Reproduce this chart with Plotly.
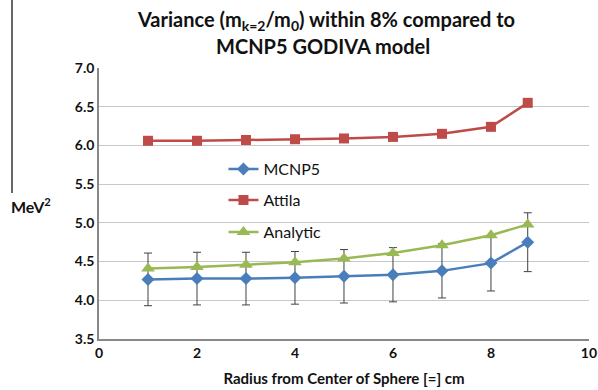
import plotly.graph_objects as go

radius = [1, 2, 3, 4, 5, 6, 7, 8, 8.75]
mcnp5 = [4.27, 4.28, 4.28, 4.29, 4.31, 4.33, 4.38, 4.48, 4.75]
mcnp5_err = [0.34, 0.34, 0.34, 0.34, 0.345, 0.35, 0.35, 0.36, 0.38]
attila = [6.06, 6.06, 6.07, 6.08, 6.09, 6.11, 6.15, 6.24, 6.55]
analytic = [4.41, 4.43, 4.46, 4.49, 4.54, 4.61, 4.71, 4.84, 4.98]

FONT = "Lato"
LEG_FONT = dict(size=16, family=FONT, color="#111111")
TITLE_FONT = dict(size=20, family=FONT, color="#111111")

fig = go.Figure()
fig.add_trace(go.Scatter(
    x=radius, y=mcnp5, name="MCNP5", mode="lines+markers", legend="legend",
    line=dict(color="#4a7ebb", width=2.5),
    marker=dict(symbol="diamond", size=10, color="#4a7ebb"),
    error_y=dict(type="data", array=mcnp5_err, visible=True,
                 color="#404040", thickness=1, width=4),
))
fig.add_trace(go.Scatter(
    x=radius, y=attila, name="Attila", mode="lines+markers", legend="legend2",
    line=dict(color="#be4b48", width=2.5),
    marker=dict(symbol="square", size=10, color="#be4b48"),
))
fig.add_trace(go.Scatter(
    x=radius, y=analytic, name="Analytic", mode="lines+markers", legend="legend3",
    line=dict(color="#98b954", width=2.5),
    marker=dict(symbol="triangle-up", size=12, color="#98b954"),
))

# plot area in page pixels: top 68, bottom 339, left 99, right 589
def py(ypix):
    return (339 - ypix) / 271

def px(xpix):
    return (xpix - 99) / 490

def leg(ypix):
    return dict(x=0.254, y=py(ypix), xanchor="left", yanchor="middle",
                bgcolor="rgba(0,0,0,0)", font=LEG_FONT, itemwidth=30)

fig.update_layout(
    width=598, height=390,
    margin=dict(l=99, r=9, t=68, b=51, autoexpand=False),
    paper_bgcolor="white", plot_bgcolor="white",
    font=dict(family=FONT, color="#222222"),
    showlegend=True,
    legend=leg(169), legend2=leg(200), legend3=leg(232),
    xaxis=dict(range=[0, 10.001], tickvals=[0, 2, 4, 6, 8, 10], showgrid=False, automargin=False,
               showline=True, linecolor="#888888", linewidth=1.5, ticklabeloverflow="allow",
               ticks="", tickfont=dict(size=14, family=FONT, color="#111111", weight="bold"),
               title=dict(text="<b>Radius from Center of Sphere [=] cm</b>",
                          font=dict(size=15, family=FONT, color="#111111"), standoff=14),
               zeroline=False),
    yaxis=dict(range=[3.5, 7.0], dtick=0.5, tickformat=".1f", automargin=False,
               showgrid=True, gridcolor="#c8c8c8", gridwidth=1,
               showline=True, linecolor="#888888", linewidth=1.5,
               ticks="", tickfont=dict(size=14, family=FONT, color="#111111", weight="bold"),
               zeroline=False),
    annotations=[
        dict(text="<b>Variance (m<sub>k=2</sub>/m<sub>0</sub>) within 8% compared to</b>",
             xref="paper", yref="paper", x=px(326), y=py(21), xanchor="center", yanchor="middle",
             showarrow=False, font=TITLE_FONT),
        dict(text="<b>MCNP5 GODIVA model</b>",
             xref="paper", yref="paper", x=px(323), y=py(46), xanchor="center", yanchor="middle",
             showarrow=False, font=TITLE_FONT),
        dict(text="<b>MeV<sup>2</sup></b>", xref="paper", yref="paper",
             x=px(9), y=py(205), xanchor="left", yanchor="middle",
             showarrow=False, font=dict(size=16, family=FONT, color="#111111")),
    ],
    shapes=[
        dict(type="line", xref="paper", yref="paper", x0=px(12), x1=px(12),
             y0=py(193), y1=1.26, line=dict(color="#333333", width=1.5)),
    ],
)

fig.write_html("out.html",
               config={"displayModeBar": False},
               post_script="document.body.style.margin='0';document.body.style.overflow='hidden';")
